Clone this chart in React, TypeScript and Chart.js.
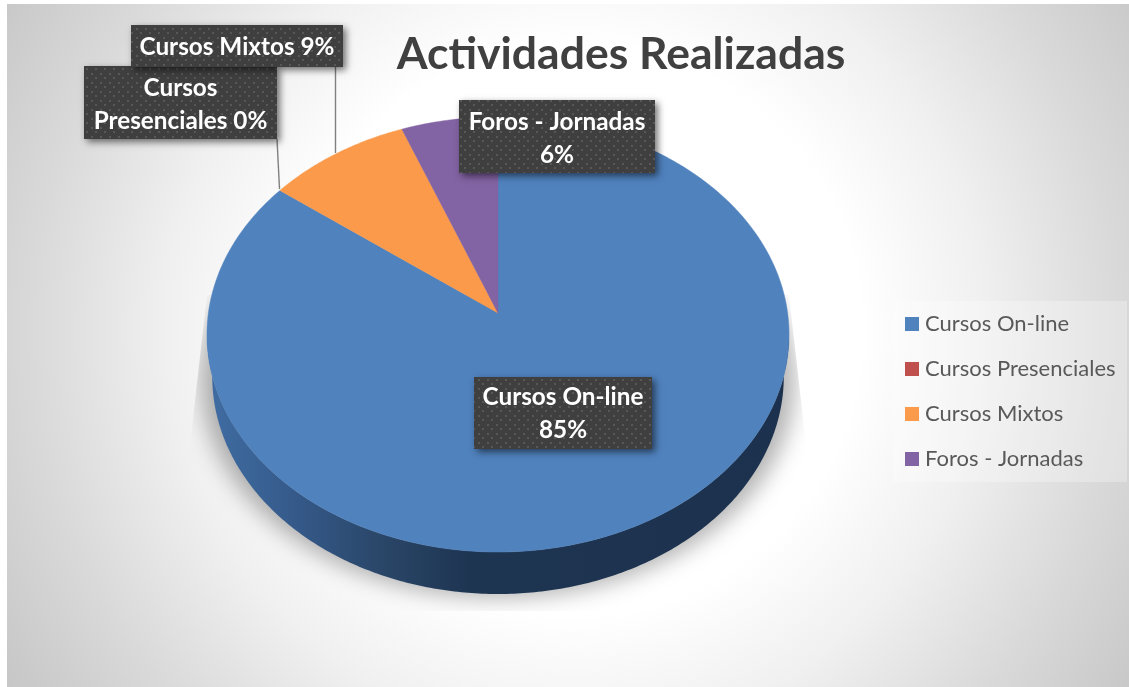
import React, { useEffect, useRef } from "react";
import { Chart, registerables } from "chart.js";

Chart.register(...registerables);

const categories = ["Cursos On-line", "Cursos Presenciales", "Cursos Mixtos", "Foros - Jornadas"];
const percentages = [85.3, 0, 8.8, 5.9];
const sliceColors = ["#5082be", "#c0504d", "#fb9a4b", "#8263a3"];
const chartTitle = "Actividades Realizadas";

// Callout geometry: [category index, x0, y0, x1, y1, wrapped, text y nudge]
const calloutBoxes: [number, number, number, number, number, boolean, number][] = [
  [3, 459, 100, 655, 173, true, 2.5],
  [0, 474, 377, 652, 449, true, 0.5],
  [1, 84, 66, 277, 139, true, 2.5],
  [2, 131, 25, 343, 67, false, 1],
];
const leaderLines = [
  [277, 139, 279.5, 189],
  [335.5, 67, 335.5, 153],
];

const CX = 498, CY = 313, A = 289.6, B = 215.4, K = 0.0988, DEPTH = 42, NARROW = 0.982;

function proj(phi: number, scale = 1, dy = 0): [number, number] {
  const u = Math.cos(phi), v = Math.sin(phi);
  const w = 1 + K * v;
  return [CX + (scale * A * u) / w, CY + dy - (B * v) / w];
}

function tracePath(ctx: CanvasRenderingContext2D, from: number, to: number, scale = 1, dy = 0, move = true) {
  const steps = Math.max(8, Math.ceil(Math.abs(to - from) * 90));
  for (let i = 0; i <= steps; i++) {
    const [x, y] = proj(from + ((to - from) * i) / steps, scale, dy);
    if (i === 0 && move) ctx.moveTo(x, y);
    else ctx.lineTo(x, y);
  }
}

function makeDotPattern(ctx: CanvasRenderingContext2D) {
  const c = document.createElement("canvas");
  c.width = 9;
  c.height = 9;
  const g = c.getContext("2d")!;
  g.fillStyle = "#3f3f3f";
  g.fillRect(0, 0, 9, 9);
  g.fillStyle = "#575757";
  g.fillRect(1, 1, 2, 2);
  g.fillRect(5, 5, 2, 2);
  return ctx.createPattern(c, "repeat")!;
}

function legendSwatch(color: string) {
  const c = document.createElement("canvas");
  c.width = 14;
  c.height = 14;
  const g = c.getContext("2d")!;
  g.fillStyle = color;
  g.fillRect(0, 0, 14, 14);
  return c;
}

const pie3d = {
  id: "pie3d",
  beforeDraw(chart: any) {
    const ctx: CanvasRenderingContext2D = chart.ctx;
    ctx.save();
    ctx.fillStyle = "#ffffff";
    ctx.fillRect(0, 0, 1129, 687);
    const bg = ctx.createRadialGradient(575, 330, 0, 575, 330, 680);
    bg.addColorStop(0, "#ffffff");
    bg.addColorStop(0.42, "#ffffff");
    bg.addColorStop(0.6, "#f0f0f0");
    bg.addColorStop(0.8, "#d9d9d9");
    bg.addColorStop(1, "#c5c5c5");
    ctx.fillStyle = bg;
    ctx.fillRect(7, 4, 1122, 683);
    // legend backing
    ctx.fillStyle = "rgba(255,255,255,0.28)";
    ctx.fillRect(893, 301, 234, 181);
    ctx.restore();
  },
  afterLayout(chart: any) {
    const t = chart.titleBlock;
    if (t) {
      t.left = 621 - 564.5;
      t.right = 621 + 564.5;
      t.top = 28.5;
      t.bottom = 80;
    }
    const l = chart.legend;
    if (l) {
      l.left = 887;
      l.top = 290;
    }
  },
  beforeDatasetsDraw(chart: any) {
    const ctx: CanvasRenderingContext2D = chart.ctx;
    const arcs = chart.getDatasetMeta(0).data;
    const alpha = Math.asin(K);

    // floor shadow
    ctx.save();
    ctx.beginPath();
    ctx.moveTo(207, 295);
    ctx.lineTo(789, 295);
    ctx.lineTo(808, 462);
    ctx.lineTo(808, 611);
    ctx.lineTo(188, 611);
    ctx.lineTo(188, 462);
    ctx.closePath();
    ctx.clip();
    ctx.filter = "blur(11px)";
    ctx.fillStyle = "rgba(0,0,0,0.30)";
    ctx.beginPath();
    tracePath(ctx, 0, Math.PI * 2, 1.02, 46);
    ctx.closePath();
    ctx.fill();
    ctx.restore();

    // side wall
    ctx.save();
    const grad = ctx.createLinearGradient(207, 0, 789, 0);
    grad.addColorStop(0, "#406da3");
    grad.addColorStop(0.15, "#355a8a");
    grad.addColorStop(0.3, "#2a4668");
    grad.addColorStop(0.45, "#1e3552");
    grad.addColorStop(1, "#1c314d");
    ctx.fillStyle = grad;
    ctx.beginPath();
    tracePath(ctx, Math.PI + alpha, 2 * Math.PI - alpha, 1, 0);
    tracePath(ctx, 2 * Math.PI - alpha, Math.PI + alpha, NARROW, DEPTH, false);
    ctx.closePath();
    ctx.fill();
    ctx.restore();

    // top face, from the library's arc angles
    arcs.forEach((arc: any) => {
      const { startAngle, endAngle } = arc.getProps(["startAngle", "endAngle"], true);
      if (endAngle - startAngle < 1e-4) return;
      ctx.save();
      ctx.fillStyle = arc.options.backgroundColor;
      ctx.beginPath();
      ctx.moveTo(CX, CY);
      tracePath(ctx, -startAngle, -endAngle, 1, 0, false);
      ctx.closePath();
      ctx.fill();
      ctx.strokeStyle = arc.options.backgroundColor;
      ctx.lineWidth = 0.5;
      ctx.stroke();
      ctx.restore();
    });
    return false;
  },
  afterDraw(chart: any) {
    const ctx: CanvasRenderingContext2D = chart.ctx;
    ctx.save();
    ctx.strokeStyle = "#808080";
    ctx.lineWidth = 1.4;
    leaderLines.forEach(([x0, y0, x1, y1]) => {
      ctx.beginPath();
      ctx.moveTo(x0, y0);
      ctx.lineTo(x1, y1);
      ctx.stroke();
    });
    const pattern = makeDotPattern(ctx);
    calloutBoxes.forEach(([idx, x0, y0, x1, y1, wrap, nudge]) => {
      ctx.save();
      ctx.shadowColor = "rgba(0,0,0,0.55)";
      ctx.shadowBlur = 7;
      ctx.shadowOffsetX = 3;
      ctx.shadowOffsetY = 3;
      ctx.fillStyle = "#3f3f3f";
      ctx.fillRect(x0, y0, x1 - x0, y1 - y0);
      ctx.restore();
      ctx.fillStyle = pattern;
      ctx.fillRect(x0, y0, x1 - x0, y1 - y0);
      const name = categories[idx];
      const pct = Math.round(percentages[idx]) + "%";
      let lines = [name + " " + pct];
      if (wrap) {
        if (idx === 1) {
          const sp = name.indexOf(" ");
          lines = [name.slice(0, sp), name.slice(sp + 1) + " " + pct];
        } else {
          lines = [name, pct];
        }
      }
      ctx.fillStyle = "#ffffff";
      ctx.font = "bold 24.3px Lato";
      ctx.textAlign = "center";
      ctx.textBaseline = "middle";
      const mid = (y0 + y1) / 2 + nudge;
      lines.forEach((ln, k) => {
        ctx.fillText(ln, (x0 + x1) / 2, mid + (k - (lines.length - 1) / 2) * 33);
      });
    });
    ctx.restore();
  },
};

export default function App() {
  const ref = useRef<HTMLCanvasElement>(null);
  useEffect(() => {
    const chart = new Chart(ref.current!, {
      type: "pie",
      data: {
        labels: categories,
        datasets: [{ data: percentages, backgroundColor: sliceColors, borderWidth: 0 }],
      },
      options: {
        animation: false,
        responsive: false,
        layout: { padding: 0 },
        plugins: {
          tooltip: { enabled: false },
          title: {
            display: true,
            text: chartTitle,
            color: "#404040",
            padding: 0,
            font: { family: "Lato", size: 44.5, weight: "bold", lineHeight: 1.17 },
          },
          legend: {
            display: true,
            position: "right",
            align: "start",
            labels: {
              color: "#595959",
              font: { family: "Lato", size: 22 },
              padding: 23,
              boxHeight: 14,
              boxWidth: 14,
              usePointStyle: true,
              pointStyleWidth: 4,
              generateLabels: (c: any) =>
                c.data.labels.map((text: string, i: number) => ({
                  text,
                  fontColor: "#595959",
                  fillStyle: sliceColors[i],
                  strokeStyle: sliceColors[i],
                  lineWidth: 0,
                  pointStyle: legendSwatch(sliceColors[i]),
                  hidden: false,
                  index: i,
                })),
            },
          },
        },
      } as any,
      plugins: [pie3d as any],
    });
    return () => chart.destroy();
  }, []);
  return (
    <div style={{ position: "fixed", left: 0, top: 0, width: 1129, height: 687 }}>
      <canvas ref={ref} width={1129} height={687} style={{ display: "block" }} />
    </div>
  );
}
